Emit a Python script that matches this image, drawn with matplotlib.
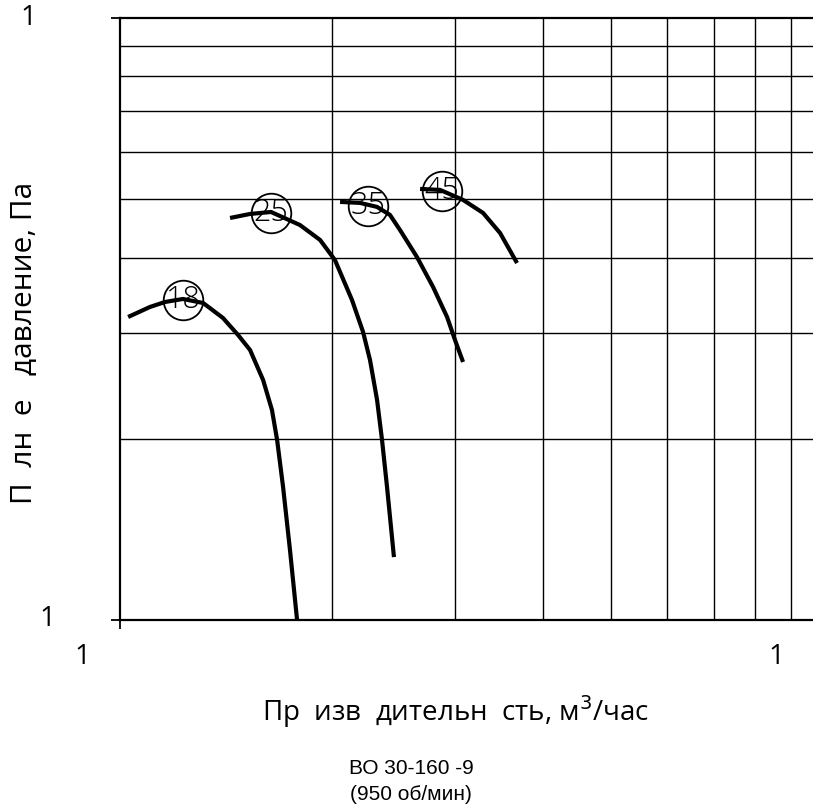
import numpy as np
import matplotlib
matplotlib.use("Agg")
import matplotlib.pyplot as plt
from matplotlib.ticker import LogLocator, NullFormatter, NullLocator

# fan curves, flow m3/h vs total pressure Pa
q18 = [1027, 1103, 1159, 1229, 1313, 1401, 1472, 1531, 1598, 1645, 1673, 1706, 1745, 1786]
p18 = [318.7, 331.1, 337.5, 341.4, 336.2, 317.5, 297.5, 280.9, 250.4, 223.3, 199.1, 166.3, 130.7, 100]

q25 = [1434, 1531, 1640, 1803, 1926, 2022, 2138, 2217, 2268, 2321, 2359, 2398, 2453]
p25 = [465.4, 472.6, 476.2, 453.0, 427.8, 396.2, 340.1, 300.9, 270.3, 232.0, 199.1, 166.3, 127.2]

q35 = [2056, 2195, 2321, 2421, 2502, 2645, 2788, 2919, 2996, 3076]
p35 = [494.9, 493.0, 485.5, 470.9, 444.5, 400.8, 357.5, 318.7, 291.8, 268.3]

q45 = [2672, 2853, 3076, 3284, 3472, 3671]
p45 = [520.1, 518.1, 498.7, 474.5, 439.5, 391.7]

curves = [(q18, p18), (q25, p25), (q35, p35), (q45, p45)]

# circled labels
tags = ["18", "25", "35", "45"]
tag_q = [1229, 1640, 2253, 2871]
tag_p = [340.0, 474.5, 487.3, 515.9]

W, H = 813, 811
fig = plt.figure(figsize=(W / 100, H / 100), dpi=100)
fig.patch.set_facecolor("white")

# axis spans one decade each way; the right edge runs off the page
ax = fig.add_axes([120 / W, 191 / H, 703 / W, 602 / H])
ax.set_xscale("log")
ax.set_yscale("log")
ax.set_xlim(1000, 10000)
ax.set_ylim(100, 1000)

for v in range(2000, 10000, 1000):
    ax.axvline(v, color="black", lw=1.0, zorder=1)
for v in range(200, 1000, 100):
    ax.axhline(v, color="black", lw=1.0, zorder=1)

for q, p in curves:
    ax.plot(q, p, color="black", lw=3.0, solid_capstyle="butt",
            solid_joinstyle="round", zorder=3)

for t, q, p in zip(tags, tag_q, tag_p):
    ax.plot(q, p, marker="o", ms=28.5, mfc="none", mec="black", mew=1.3, zorder=4)
    ax.text(q, p, t, ha="center", va="center", fontsize=22, family="Open Sans",
            fontweight="light", zorder=5)

ax.spines["right"].set_visible(False)
for s in ["top", "left", "bottom"]:
    ax.spines[s].set_linewidth(1.6)

ax.xaxis.set_major_locator(LogLocator(base=10, numticks=3))
ax.yaxis.set_major_locator(LogLocator(base=10, numticks=3))
ax.xaxis.set_minor_locator(NullLocator())
ax.yaxis.set_minor_locator(NullLocator())
ax.xaxis.set_major_formatter(NullFormatter())
ax.yaxis.set_major_formatter(NullFormatter())
ax.tick_params(direction="out", length=6.5, width=1.3, top=False, right=False)

def px(x, y, s, **kw):
    fig.text(x / W, 1 - y / H, s, **kw)

tf = dict(family="Open Sans", fontsize=20, ha="center", va="center")
px(28, 18, "1", **tf)
px(47, 619, "1", **tf)
px(82, 657, "1", **tf)
px(776, 657, "1", **tf)

px(456, 712, "Пр  изв  дительн  сть, м$^3$/час", family="Open Sans",
   fontsize=20, ha="center", va="center")
px(25, 343, "П  лн  е   давление, Па", family="Open Sans", fontsize=21.5,
   ha="center", va="center", rotation=90)

cf = dict(family="Liberation Sans", fontsize=15, ha="center", va="center")
px(411, 769, "ВО 30-160 -9", **cf)
px(411, 795, "(950 об/мин)", **cf)

fig.savefig("out.png", dpi=100)
